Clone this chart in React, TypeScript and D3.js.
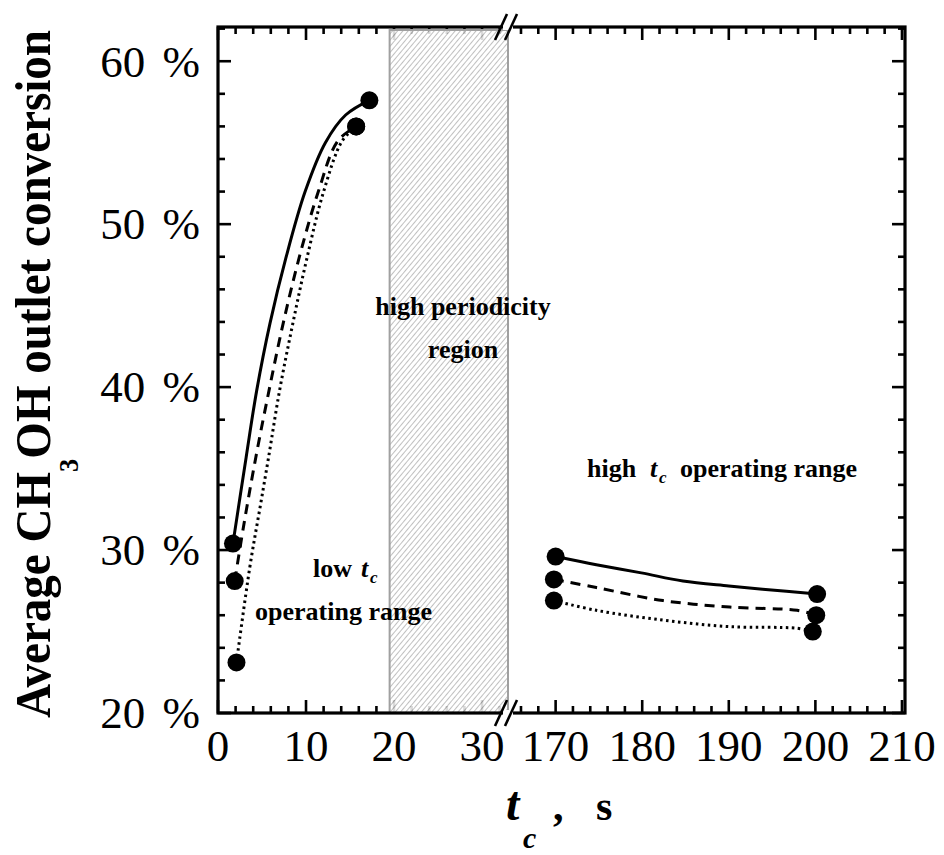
import React from 'react';
import * as d3 from 'd3';

// ── Data ───────────────────────────────────────────────────────────────
const yMajor = [20, 30, 40, 50, 60];
const xLeftMajor = [0, 10, 20, 30];
const xRightMajor = [170, 180, 190, 200, 210];

// low t_c branch
const lowSolid: [number, number][] = [[1.7, 30.4], [3.2, 35.7], [4.4, 39.8], [5.9, 43.9], [7.7, 47.9], [9.9, 52.0], [12.2, 55.0], [14.5, 56.7], [17.2, 57.6]];
const lowDashed: [number, number][] = [[1.9, 28.1], [2.95, 31.6], [4.3, 35.7], [5.8, 39.8], [7.4, 43.9], [9.2, 47.9], [11.4, 52.0], [13.6, 55.1], [15.7, 56.0]];
const lowDotted: [number, number][] = [[2.1, 23.1], [3.6, 28.9], [4.9, 33.0], [5.75, 35.7], [7.0, 39.8], [8.5, 43.9], [10.1, 47.9], [12.0, 52.0], [14.1, 55.1], [15.7, 56.0]];

// high t_c branch
const highSolid: [number, number][] = [[170, 29.6], [174.7, 29.1], [179.9, 28.6], [184.7, 28.1], [190, 27.8], [193.9, 27.6], [200.2, 27.3]];
const highDashed: [number, number][] = [[169.8, 28.2], [174.7, 27.7], [182.4, 26.9], [190.1, 26.5], [197.9, 26.3], [200.1, 26.0]];
const highDotted: [number, number][] = [[169.8, 26.9], [174.7, 26.3], [182.4, 25.7], [190.1, 25.3], [197.9, 25.2], [199.7, 25.0]];

const hatchFrom = 19.5;
const breakLeft = 32.95;
const breakRight = 164.5;

const SERIF = '"Liberation Serif", "Times New Roman", serif';

export default function App() {
  const W = 944, H = 855;
  const L = 218, R = 905, T = 27, B = 713;
  const xBreak = 508;

  const x = d3.scaleLinear()
    .domain([0, breakLeft, breakRight, 210.35])
    .range([L, xBreak, xBreak, R]);
  const y = d3.scaleLinear().domain([20, 62.1]).range([B, T]);

  const line = d3.line<[number, number]>()
    .x(d => x(d[0]))
    .y(d => y(d[1]))
    .curve(d3.curveCatmullRom.alpha(0.5));

  const xLeftMinor = d3.range(0, 33, 2).filter(v => v % 10 !== 0);
  const xRightMinor = d3.range(166, 211, 2).filter(v => v % 10 !== 0);
  const yMinor = d3.range(22, 63, 2).filter(v => v % 10 !== 0);
  const xMajorAll = [...xLeftMajor, ...xRightMajor];
  const xMinorAll = [...xLeftMinor, ...xRightMinor];

  const series = [
    { d: lowSolid, dash: undefined },
    { d: lowDashed, dash: '10,7' },
    { d: lowDotted, dash: '2.5,3.5' },
    { d: highSolid, dash: undefined },
    { d: highDashed, dash: '10,7' },
    { d: highDotted, dash: '2.5,3.5' },
  ];

  const majLen = 13, minLen = 7;
  const tickStroke = { stroke: '#000', strokeWidth: 2.6 };

  const breakMark = (cy: number) => (
    <g>
      <rect x={xBreak - 5} y={cy - 3} width={10} height={6} fill="#fff" />
      <line x1={xBreak - 13} y1={cy + 13} x2={xBreak - 1} y2={cy - 13} stroke="#000" strokeWidth={2.6} />
      <line x1={xBreak - 3} y1={cy + 13} x2={xBreak + 9} y2={cy - 13} stroke="#000" strokeWidth={2.6} />
    </g>
  );

  return (
    <div style={{ position: 'absolute', left: 0, top: 0 }}>
      <svg width={W} height={H} style={{ display: 'block', background: '#fff' }}>
        <defs>
          <pattern id="hatch" width={4} height={4} patternUnits="userSpaceOnUse" patternTransform="rotate(40)">
            <rect width={4} height={4} fill="#fff" />
            <line x1={0} y1={0} x2={0} y2={4} stroke="#777" strokeWidth={1.1} />
          </pattern>
        </defs>

        {/* ticks: bottom & top */}
        {xMajorAll.map(v => (
          <g key={'xM' + v}>
            <line x1={x(v)} x2={x(v)} y1={B} y2={B - majLen} {...tickStroke} />
            <line x1={x(v)} x2={x(v)} y1={T} y2={T + majLen} {...tickStroke} />
          </g>
        ))}
        {xMinorAll.map(v => (
          <g key={'xm' + v}>
            <line x1={x(v)} x2={x(v)} y1={B} y2={B - minLen} {...tickStroke} />
            <line x1={x(v)} x2={x(v)} y1={T} y2={T + minLen} {...tickStroke} />
          </g>
        ))}
        {/* ticks: left & right */}
        {yMajor.map(v => (
          <g key={'yM' + v}>
            <line x1={L} x2={L + majLen} y1={y(v)} y2={y(v)} {...tickStroke} />
            <line x1={R} x2={R - majLen} y1={y(v)} y2={y(v)} {...tickStroke} />
          </g>
        ))}
        {yMinor.map(v => (
          <g key={'ym' + v}>
            <line x1={L} x2={L + minLen} y1={y(v)} y2={y(v)} {...tickStroke} />
            <line x1={R} x2={R - minLen} y1={y(v)} y2={y(v)} {...tickStroke} />
          </g>
        ))}

        {/* high periodicity region */}
        <rect x={x(hatchFrom)} y={T + 3} width={x(breakLeft) - x(hatchFrom)} height={B - T - 3}
          fill="url(#hatch)" fillOpacity={0.85} stroke="#a0a0a0" strokeWidth={2} />

        {/* frame */}
        <rect x={L} y={T} width={R - L} height={B - T} fill="none" stroke="#000" strokeWidth={3.2} />

        {breakMark(B)}
        {breakMark(T)}

        {/* curves */}
        {series.map((s, i) => (
          <path key={'s' + i} d={line(s.d) || ''} fill="none" stroke="#000" strokeWidth={3}
            strokeDasharray={s.dash} />
        ))}
        {/* end-point markers */}
        {series.map((s, i) => [s.d[0], s.d[s.d.length - 1]].map((p, j) => (
          <circle key={'c' + i + j} cx={x(p[0])} cy={y(p[1])} r={9} fill="#000" />
        )))}

        {/* tick labels */}
        {xMajorAll.map(v => (
          <text key={'xl' + v} x={x(v)} y={761} textAnchor="middle" fontFamily={SERIF} fontSize={45}>{v}</text>
        ))}
        {yMajor.map(v => (
          <text key={'yl' + v} x={200} y={y(v)} dy="0.34em" textAnchor="end" fontFamily={SERIF} fontSize={45}
            wordSpacing={6}>{v} %</text>
        ))}

        {/* y title */}
        <text transform="translate(50,374) rotate(-90)" textAnchor="middle" fontFamily={SERIF}
          fontWeight="bold" fontSize={50} textLength={688} lengthAdjust="spacingAndGlyphs">
          <tspan>Average CH</tspan>
          <tspan dy={28} fontSize={28}>3</tspan>
          <tspan dy={-28}>OH outlet conversion</tspan>
        </text>

        {/* x title */}
        <g fontFamily={SERIF} fontWeight="bold">
          <text x={506} y={820} fontSize={48} fontStyle="italic">t</text>
          <text x={523} y={848} fontSize={30} fontStyle="italic">c</text>
          <text x={553} y={820} fontSize={42}>,</text>
          <text x={596} y={820} fontSize={42}>s</text>
        </g>

        {/* annotations */}
        <g fontFamily={SERIF} fontWeight="bold" fontSize={26}>
          <text x={463} y={315} textAnchor="middle">high periodicity</text>
          <text x={463} y={358} textAnchor="middle">region</text>
          <text x={313} y={577}>low</text>
          <text x={361} y={577} fontStyle="italic">t</text>
          <text x={370} y={583} fontSize={17} fontStyle="italic">c</text>
          <text x={255} y={620}>operating range</text>
          <text x={587} y={477}>high</text>
          <text x={650} y={477} fontStyle="italic">t</text>
          <text x={659} y={483} fontSize={17} fontStyle="italic">c</text>
          <text x={680} y={477}>operating range</text>
        </g>
      </svg>
    </div>
  );
}
